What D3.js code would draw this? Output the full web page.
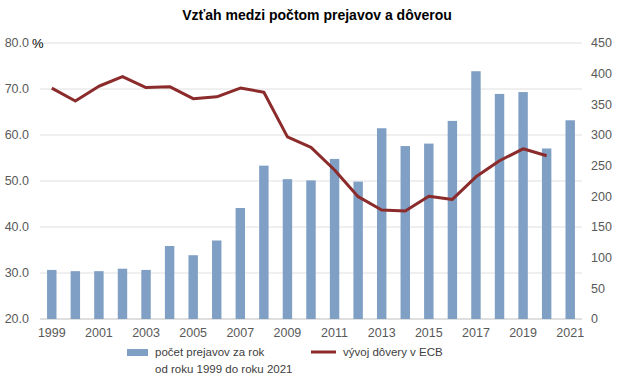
<!DOCTYPE html>
<meta charset="utf-8">
<script src="https://d3js.org/d3.v7.min.js"></script>
<style>
    body { margin: 0; background: #fff; font-family: 'Liberation Sans', Arial, sans-serif; }
</style>
<div id="chart"></div>
<script>
    // data
    var years = [1999, 2000, 2001, 2002, 2003, 2004, 2005, 2006, 2007, 2008, 2009, 2010,
                 2011, 2012, 2013, 2014, 2015, 2016, 2017, 2018, 2019, 2020, 2021];
    // number of speeches per year (right axis)
    var speeches = [80, 78, 78, 82, 80, 119, 104, 128, 181, 250, 228, 226,
                    261, 224, 311, 282, 286, 323, 404, 367, 370, 278, 324];
    // trust in ECB, % (left axis), no value for 2021
    var trust = [70.2, 67.4, 70.6, 72.7, 70.3, 70.5, 67.9, 68.3, 70.2, 69.3, 59.6, 57.3,
                 52.4, 46.6, 43.7, 43.5, 46.7, 46.0, 50.9, 54.4, 57.0, 55.5, null];
    var leftTicks = [20, 30, 40, 50, 60, 70, 80];
    var rightTicks = [0, 50, 100, 150, 200, 250, 300, 350, 400, 450];

    var W = 620, H = 384;
    var margin = {top: 43, right: 38, bottom: 65, left: 40};
    var width = W - margin.left - margin.right,
        height = H - margin.top - margin.bottom;

    var svg = d3.select("#chart").append("svg")
        .attr("width", W).attr("height", H);

    svg.append("text")
        .attr("x", 317).attr("y", 20)
        .attr("text-anchor", "middle")
        .style("font-size", "14px").style("font-weight", "bold")
        .style("fill", "#000")
        .text("Vzťah medzi počtom prejavov a dôverou");

    var g = svg.append("g")
        .attr("transform", "translate(" + margin.left + "," + margin.top + ")");

    var x = d3.scaleBand().domain(years).range([0, width]).paddingInner(0.6).paddingOuter(0.3);
    var yL = d3.scaleLinear().domain([20, 80]).range([height, 0]);
    var yR = d3.scaleLinear().domain([0, 450]).range([height, 0]);

    // gridlines
    g.selectAll(".grid").data(leftTicks).enter().append("line")
        .attr("x1", 0).attr("x2", width)
        .attr("y1", function(d) { return yL(d); })
        .attr("y2", function(d) { return yL(d); })
        .style("stroke", function(d) { return d === 20 ? "#bfbfbf" : "#e0e0e0"; })
        .style("stroke-width", 1);

    // left axis labels
    g.selectAll(".lt").data(leftTicks).enter().append("text")
        .attr("x", -11).attr("y", function(d) { return yL(d); })
        .attr("dy", "0.35em").attr("text-anchor", "end")
        .style("font-size", "12.5px").style("fill", "#595959")
        .text(function(d) { return d3.format(".1f")(d); });
    g.append("text")
        .attr("x", -8).attr("y", yL(80)).attr("dy", "0.35em")
        .style("font-size", "13px").style("fill", "#000")
        .text("%");

    // right axis labels
    g.selectAll(".rt").data(rightTicks).enter().append("text")
        .attr("x", width + 9).attr("y", function(d) { return yR(d); })
        .attr("dy", "0.35em").attr("text-anchor", "start")
        .style("font-size", "12.5px").style("fill", "#595959")
        .text(function(d) { return d; });

    // x labels, every other year
    g.selectAll(".xt").data(years.filter(function(d, i) { return i % 2 === 0; }))
        .enter().append("text")
        .attr("x", function(d) { return x(d) + x.bandwidth() / 2; })
        .attr("y", height + 18)
        .attr("text-anchor", "middle")
        .style("font-size", "12.5px").style("fill", "#595959")
        .text(function(d) { return d; });

    // bars
    g.selectAll(".bar").data(years).enter().append("rect")
        .attr("x", function(d) { return x(d); })
        .attr("width", x.bandwidth())
        .attr("y", function(d, i) { return yR(speeches[i]); })
        .attr("height", function(d, i) { return height - yR(speeches[i]); })
        .style("fill", "#7f9fc4");

    // trust line
    var line = d3.line()
        .defined(function(d) { return d[1] !== null; })
        .x(function(d) { return x(d[0]) + x.bandwidth() / 2; })
        .y(function(d) { return yL(d[1]); });
    g.append("path")
        .datum(years.map(function(d, i) { return [d, trust[i]]; }))
        .attr("d", line)
        .style("fill", "none").style("stroke", "#8b2b2b")
        .style("stroke-width", 3).style("stroke-linejoin", "round");

    // legend
    var leg = svg.append("g");
    leg.append("rect").attr("x", 127).attr("y", 349).attr("width", 21).attr("height", 7)
        .style("fill", "#7f9fc4");
    leg.append("text").attr("x", 155).attr("y", 352).attr("dy", "0.35em")
        .style("font-size", "11.5px").style("fill", "#404040")
        .text("počet prejavov za rok");
    leg.append("text").attr("x", 155).attr("y", 369).attr("dy", "0.35em")
        .style("font-size", "11.5px").style("fill", "#404040")
        .text("od roku 1999 do roku 2021");
    leg.append("line").attr("x1", 311).attr("x2", 336).attr("y1", 352).attr("y2", 352)
        .style("stroke", "#8b2b2b").style("stroke-width", 3);
    leg.append("text").attr("x", 343).attr("y", 352).attr("dy", "0.35em")
        .style("font-size", "11.5px").style("fill", "#404040")
        .text("vývoj dôvery v ECB");
</script>
